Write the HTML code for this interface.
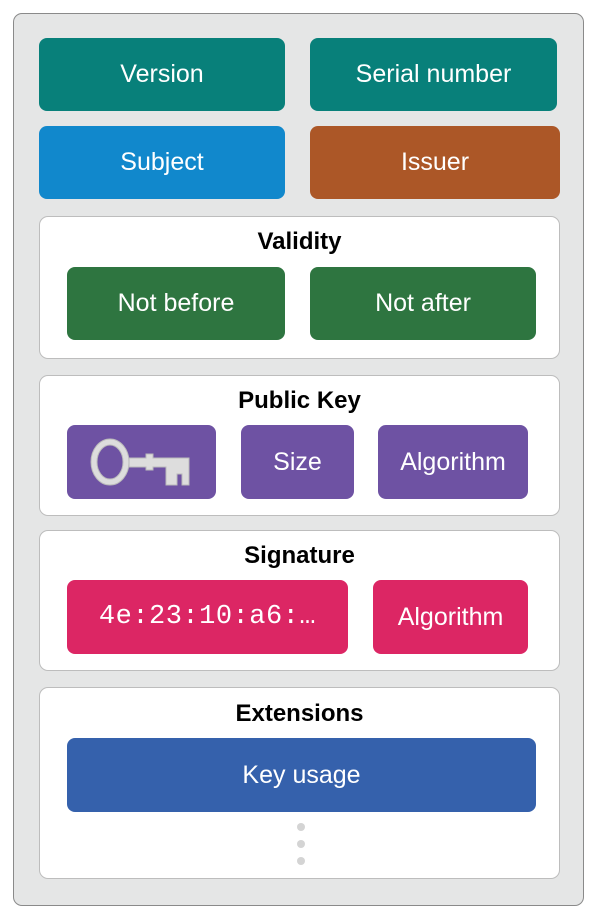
<!DOCTYPE html>
<html><head><meta charset="utf-8"><style>
*{margin:0;padding:0;box-sizing:border-box}
body{width:596px;height:918px;background:#fff;position:relative;font-family:"Liberation Sans",sans-serif;overflow:hidden}
.a{position:absolute}
.outer{left:13px;top:13px;width:571px;height:893px;background:#e5e6e6;border:1.5px solid #8a8a8a;border-radius:9px}
.p{background:#fff;border:1.5px solid #bdbdbd;border-radius:9px}
.b{border-radius:8px;color:#fff;font-size:25px;display:flex;align-items:center;justify-content:center;font-weight:normal}
.t{font-size:24px;font-weight:bold;color:#000;text-align:center}
.dot{width:8px;height:8px;border-radius:50%;background:#d4d4d4}
</style></head><body>
<div class="a outer"></div>
<div class="a b" style="left:39px;top:38px;width:246px;height:73px;background:#08807a">Version</div>
<div class="a b" style="left:310px;top:38px;width:247px;height:73px;background:#08807a">Serial number</div>
<div class="a b" style="left:39px;top:126px;width:246px;height:73px;background:#1188cc">Subject</div>
<div class="a b" style="left:310px;top:126px;width:250px;height:73px;background:#ac5727">Issuer</div>

<div class="a p" style="left:39px;top:216px;width:521px;height:143px"></div>
<div class="a t" style="left:39px;top:228px;width:521px">Validity</div>
<div class="a b" style="left:67px;top:267px;width:218px;height:73px;background:#2e7540">Not before</div>
<div class="a b" style="left:310px;top:267px;width:226px;height:73px;background:#2e7540">Not after</div>

<div class="a p" style="left:39px;top:375px;width:521px;height:141px"></div>
<div class="a t" style="left:39px;top:387px;width:521px">Public Key</div>
<div class="a" style="left:67px;top:425px;width:149px;height:74px;background:#6e52a3;border-radius:8px">
<svg class="a" style="left:22px;top:11px" width="104" height="52" viewBox="0 0 104 52">
<ellipse cx="21" cy="26" rx="19" ry="23" fill="#ddd" stroke="#bbb" stroke-width="1"/>
<ellipse cx="21" cy="26" rx="13" ry="17" fill="#6e52a3" stroke="#bbb" stroke-width="1"/>
<path d="M40 22 L57 22 L57 18 L64 18 L64 22 L100 22 L100 49 L93 49 L93 38 L88 38 L88 49 L77 49 L77 31 L64 31 L64 34 L57 34 L57 31 L40 31 Z" fill="#ddd" stroke="#bbb" stroke-width="1"/>
</svg></div>
<div class="a b" style="left:241px;top:425px;width:113px;height:74px;background:#6e52a3">Size</div>
<div class="a b" style="left:378px;top:425px;width:150px;height:74px;background:#6e52a3">Algorithm</div>

<div class="a p" style="left:39px;top:530px;width:521px;height:141px"></div>
<div class="a t" style="left:39px;top:542px;width:521px">Signature</div>
<div class="a b" style="left:67px;top:580px;width:281px;height:74px;background:#dc2664;font-family:'Liberation Mono',monospace;font-size:27px;letter-spacing:0.5px">4e:23:10:a6:…</div>
<div class="a b" style="left:373px;top:580px;width:155px;height:74px;background:#dc2664">Algorithm</div>

<div class="a p" style="left:39px;top:687px;width:521px;height:192px"></div>
<div class="a t" style="left:39px;top:700px;width:521px">Extensions</div>
<div class="a b" style="left:67px;top:738px;width:469px;height:74px;background:#3561ac">Key usage</div>
<div class="a dot" style="left:297px;top:823px"></div>
<div class="a dot" style="left:297px;top:840px"></div>
<div class="a dot" style="left:297px;top:857px"></div>
</body></html>
